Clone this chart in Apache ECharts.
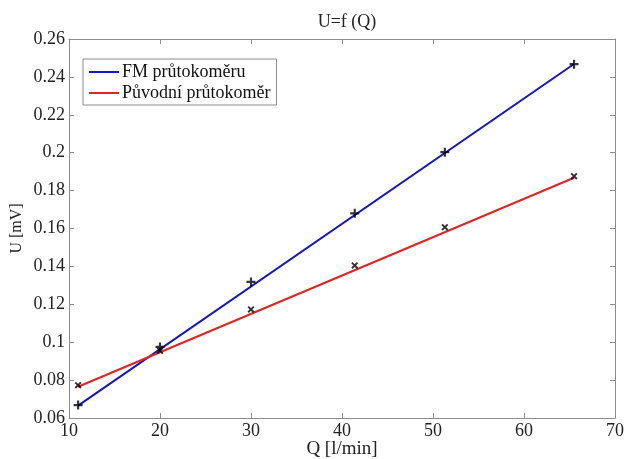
<!DOCTYPE html>
<html>
<head>
<meta charset="utf-8">
<script src="https://cdn.jsdelivr.net/npm/echarts@6/dist/echarts.min.js"></script>
<style>
html, body { margin: 0; padding: 0; background: #fff; }
#chart { width: 624px; height: 459px; }
</style>
</head>
<body>
<div id="chart"></div>
<script>
// measured points
var q = [11, 20, 30, 41.4, 51.3, 65.5];
var uFM = [0.0668, 0.0975, 0.1318, 0.168, 0.2003, 0.2467];
var uOld = [0.0773, 0.0955, 0.1173, 0.1405, 0.1607, 0.1876];
// fitted lines (end points)
var fitQ = [11, 65.5];
var fitFM = [0.0665, 0.2468];
var fitOld = [0.0765, 0.1868];

function pairs(xs, ys) {
  return xs.map(function (x, i) { return [x, ys[i]]; });
}

var font = 'Liberation Serif';
var axisGray = '#8c8c8c';
var plus = 'path://M0,3.8h10v2.4h-10z M3.8,0h2.4v10h-2.4z';

var chart = echarts.init(document.getElementById('chart'));
chart.setOption({
  animation: false,
  title: {
    text: 'U=f (Q)',
    left: 342, top: 8, textAlign: 'center',
    textStyle: { fontFamily: font, fontSize: 18, fontWeight: 'normal', color: '#222' }
  },
  grid: { left: 69, right: 9, top: 39, bottom: 41, containLabel: false, outerBoundsMode: 'none' },
  legend: {
    orient: 'vertical',
    left: 83, top: 59,
    padding: [4, 6, 3, 6],
    itemWidth: 30, itemHeight: 2, itemGap: 3,
    icon: 'rect',
    borderColor: axisGray, borderWidth: 1,
    backgroundColor: '#fff',
    textStyle: { fontFamily: font, fontSize: 18, color: '#111', padding: [0, 0, 0, -2] },
    data: ['FM průtokoměru', 'Původní průtokoměr']
  },
  xAxis: [{
    type: 'value', min: 10, max: 70, interval: 10,
    name: 'Q [l/min]', nameLocation: 'middle', nameGap: 22, nameMoveOverlap: false,
    nameTextStyle: { fontFamily: font, fontSize: 19, color: '#222' },
    axisLine: { lineStyle: { color: axisGray } },
    axisTick: { inside: true, length: 5, lineStyle: { color: axisGray } },
    axisLabel: { fontFamily: font, fontSize: 18, color: '#222', margin: 4 },
    splitLine: { show: false }
  }, {
    type: 'value', min: 10, max: 70, interval: 10, position: 'top',
    axisLine: { lineStyle: { color: axisGray } },
    axisTick: { inside: true, length: 5, lineStyle: { color: axisGray } },
    axisLabel: { show: false },
    splitLine: { show: false }
  }],
  yAxis: [{
    type: 'value', min: 0.06, max: 0.26, interval: 0.02,
    name: 'U [mV]', nameLocation: 'middle', nameGap: 44, nameMoveOverlap: false,
    nameTextStyle: { fontFamily: font, fontSize: 16, color: '#222' },
    axisLine: { show: true, lineStyle: { color: axisGray } },
    axisTick: { show: true, inside: true, length: 5, lineStyle: { color: axisGray } },
    axisLabel: { fontFamily: font, fontSize: 18, color: '#222', margin: 4 },
    splitLine: { show: false }
  }, {
    type: 'value', min: 0.06, max: 0.26, interval: 0.02, position: 'right',
    axisLine: { show: true, lineStyle: { color: axisGray } },
    axisTick: { show: true, inside: true, length: 5, lineStyle: { color: axisGray } },
    axisLabel: { show: false },
    splitLine: { show: false }
  }],
  series: [{
    name: 'FM průtokoměru',
    type: 'line',
    data: pairs(fitQ, fitFM),
    symbol: 'none',
    lineStyle: { color: '#1515c8', width: 2 },
    itemStyle: { color: '#1515c8' }
  }, {
    name: 'Původní průtokoměr',
    type: 'line',
    data: pairs(fitQ, fitOld),
    symbol: 'none',
    lineStyle: { color: '#e02424', width: 2 },
    itemStyle: { color: '#e02424' }
  }, {
    type: 'scatter',
    data: pairs(q, uFM),
    symbol: plus, symbolSize: 9,
    itemStyle: { color: '#000' },
    z: 5
  }, {
    type: 'scatter',
    data: pairs(q, uOld),
    symbol: plus, symbolSize: 8, symbolRotate: 45,
    itemStyle: { color: '#000' },
    z: 5
  }]
});
</script>
</body>
</html>
